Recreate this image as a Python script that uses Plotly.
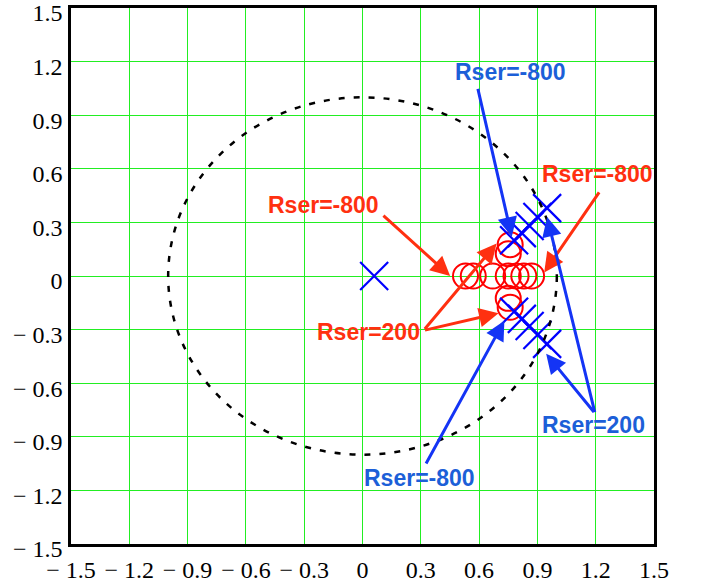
import plotly.graph_objects as go

# Pole-zero map for different series resistances (Rser)
zeros_re = [0.53, 0.57, 0.67, 0.75, 0.79, 0.83, 0.87, 0.75, 0.76, 0.75, 0.76]
zeros_im = [0.0, 0.0, 0.0, 0.0, 0.0, 0.0, 0.0, 0.125, 0.175, -0.125, -0.175]

poles_re = [0.06,
            0.78, 0.82, 0.86, 0.90, 0.95,
            0.78, 0.82, 0.86, 0.90, 0.95]
poles_im = [0.0,
            0.20, 0.24, 0.28, 0.33, 0.38,
            -0.20, -0.24, -0.28, -0.33, -0.38]

tick_vals = [-1.5, -1.2, -0.9, -0.6, -0.3, 0, 0.3, 0.6, 0.9, 1.2, 1.5]
tick_text = ["\u2212 1.5", "\u2212 1.2", "\u2212 0.9", "\u2212 0.6", "\u2212 0.3",
             "0", "0.3", "0.6", "0.9", "1.2", "1.5"]

# Label text, label position, and arrow (tail -> tip) in data coordinates
red_labels = [
    ("Rser=-800", -0.20, 0.40, [((0.10, 0.346), (0.451, 0.0))]),
    ("Rser=200", 0.03, -0.315, [((0.314, -0.305), (0.69, 0.182)),
                                ((0.314, -0.305), (0.70, -0.208))]),
    ("Rser=-800", 1.21, 0.57, [((1.223, 0.476), (0.935, 0.02))]),
]
blue_labels = [
    ("Rser=-800", 0.764, 1.141, [((0.592, 1.056), (0.768, 0.22))]),
    ("Rser=200", 1.188, -0.835, [((1.197, -0.77), (0.95, 0.33)),
                                 ((1.197, -0.77), (0.945, -0.435))]),
    ("Rser=-800", 0.292, -1.132, [((0.323, -1.058), (0.73, -0.25))]),
]

RED_TXT = "#ff3010"
RED_ARR = "#ff3010"
BLUE_TXT = "#1c5fd8"
BLUE_ARR = "#1434f5"

fig = go.Figure()

fig.add_trace(go.Scatter(
    x=zeros_re, y=zeros_im, mode="markers",
    marker=dict(symbol="circle-open", size=25, color="#ff0000",
                line=dict(width=2, color="#ff0000")),
    showlegend=False, hoverinfo="skip"))

fig.add_trace(go.Scatter(
    x=poles_re, y=poles_im, mode="markers",
    marker=dict(symbol="x-thin-open", size=28, color="#0000ff",
                line=dict(width=2.2, color="#0000ff")),
    showlegend=False, hoverinfo="skip"))

# Unit circle
fig.add_shape(type="circle", xref="x", yref="y", x0=-1, y0=-1, x1=1, y1=1,
              line=dict(color="black", width=2.5, dash="6px,9px"), layer="above")

annotations = []
for labels, tcol, acol in ((red_labels, RED_TXT, RED_ARR), (blue_labels, BLUE_TXT, BLUE_ARR)):
    for text, lx, ly, arrows in labels:
        annotations.append(dict(
            x=lx, y=ly, xref="x", yref="y", text=f"<b>{text}</b>", showarrow=False,
            font=dict(family="Liberation Sans, Arial", size=23, color=tcol)))
        for (tx, ty), (hx, hy) in arrows:
            annotations.append(dict(
                x=hx, y=hy, ax=tx, ay=ty, xref="x", yref="y", axref="x", ayref="y",
                text="", showarrow=True, arrowhead=2, arrowsize=1.3, arrowwidth=3,
                arrowcolor=acol, standoff=0))

axis_common = dict(
    range=[-1.5, 1.5], tickvals=tick_vals, ticktext=tick_text,
    showgrid=True, gridcolor="#22ee22", gridwidth=1.3,
    zeroline=False, showline=True, linecolor="black", linewidth=2.5, mirror=True,
    ticks="", tickfont=dict(family="Liberation Serif, Times New Roman", size=24, color="black"),
    fixedrange=True, automargin=False, ticklabeloverflow="allow",
)

fig.update_layout(
    width=702, height=585,
    margin=dict(l=71, r=48, t=8, b=41),
    paper_bgcolor="white", plot_bgcolor="white",
    xaxis=dict(**axis_common, ticklabelstandoff=2),
    yaxis=dict(**axis_common, ticklabelstandoff=1, ticklabelshift=5),
    annotations=annotations,
)

fig.write_html("out.html")
